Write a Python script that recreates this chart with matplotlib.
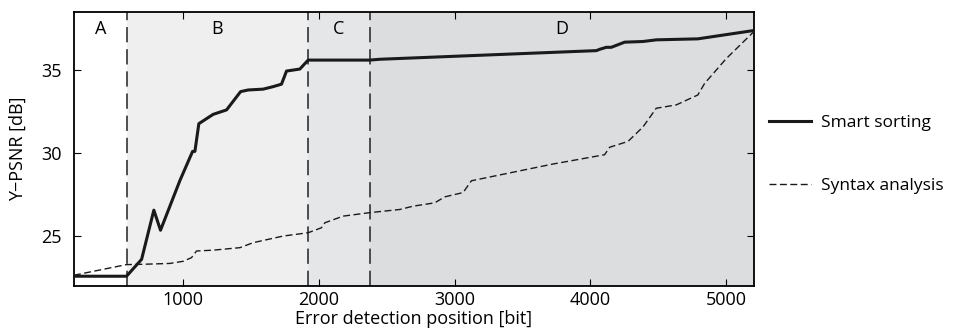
import matplotlib
matplotlib.use("Agg")
import matplotlib.pyplot as plt

plt.rcParams['font.family'] = ['Open Sans', 'DejaVu Sans']

# Smart sorting curve
smart_x = [200, 587, 698, 788, 837, 979, 1073, 1090, 1119, 1224, 1323, 1426, 1482,
           1592, 1665, 1727, 1764, 1813, 1862, 1923, 2376, 2450, 4043, 4068, 4116,
           4153, 4251, 4386, 4484, 4790, 5200]
smart_y = [22.58, 22.58, 23.6, 26.56, 25.35, 28.33, 30.1, 30.1, 31.77, 32.33, 32.6,
           33.7, 33.8, 33.85, 34.0, 34.15, 34.94, 35.0, 35.06, 35.6, 35.6, 35.65,
           36.17, 36.25, 36.37, 36.37, 36.68, 36.72, 36.82, 36.88, 37.38]

# Syntax analysis curve
syntax_x = [200, 587, 710, 906, 1004, 1065, 1102, 1224, 1421, 1518, 1739, 1923, 2021,
            2046, 2180, 2376, 2597, 2695, 2854, 2928, 3063, 3124, 3308, 3725, 4104,
            4141, 4276, 4386, 4484, 4631, 4790, 4840, 5000, 5200]
syntax_y = [22.64, 23.28, 23.3, 23.35, 23.48, 23.7, 24.1, 24.15, 24.3, 24.6, 25.0,
            25.2, 25.5, 25.8, 26.2, 26.41, 26.6, 26.8, 27.0, 27.36, 27.62, 28.33,
            28.64, 29.34, 29.9, 30.35, 30.7, 31.57, 32.7, 32.9, 33.5, 34.2, 35.7, 37.3]

# Regions
region_edges = [200, 587, 1920, 2376, 5200]
region_names = ["A", "B", "C", "D"]
region_colors = ["#ffffff", "#efefef", "#e5e6e7", "#dcdddf"]

fig = plt.figure(figsize=(9.6, 3.32), dpi=100)
ax = fig.add_axes([0.077, 0.139, 0.708, 0.825])

for i in range(len(region_names)):
    ax.axvspan(region_edges[i], region_edges[i + 1], color=region_colors[i], lw=0, zorder=0)
    ax.text((region_edges[i] + region_edges[i + 1]) / 2, 37.5, region_names[i],
            ha="center", va="center", fontsize=13)
for x in region_edges[1:-1]:
    ax.axvline(x, color="#222222", ls=(0, (10, 4.5)), lw=1.1, zorder=1)

ax.plot(smart_x, smart_y, color="#1a1a1a", lw=2.2, label="Smart sorting", zorder=3)
ax.plot(syntax_x, syntax_y, color="#1a1a1a", lw=1.0, ls=(0, (5, 2.5)),
        label="Syntax analysis", zorder=3)

ax.set_xlim(200, 5200)
ax.set_ylim(22, 38.5)
ax.set_xticks([1000, 2000, 3000, 4000, 5000])
ax.set_yticks([25, 30, 35])
ax.tick_params(direction="in", top=True, right=True, labelsize=13, length=5)
ax.tick_params(axis="y", pad=9)
for s in ax.spines.values():
    s.set_linewidth(1.3)
ax.set_xlabel("Error detection position [bit]", fontsize=13, labelpad=1)
ax.set_ylabel("Y\u2212PSNR [dB]", fontsize=13, labelpad=10)

ax.legend(loc="center left", bbox_to_anchor=(1.0, 0.48), frameon=False,
          fontsize=12.5, handlelength=2.4, handletextpad=0.6, labelspacing=2.7)

fig.savefig("out.png", dpi=100)
